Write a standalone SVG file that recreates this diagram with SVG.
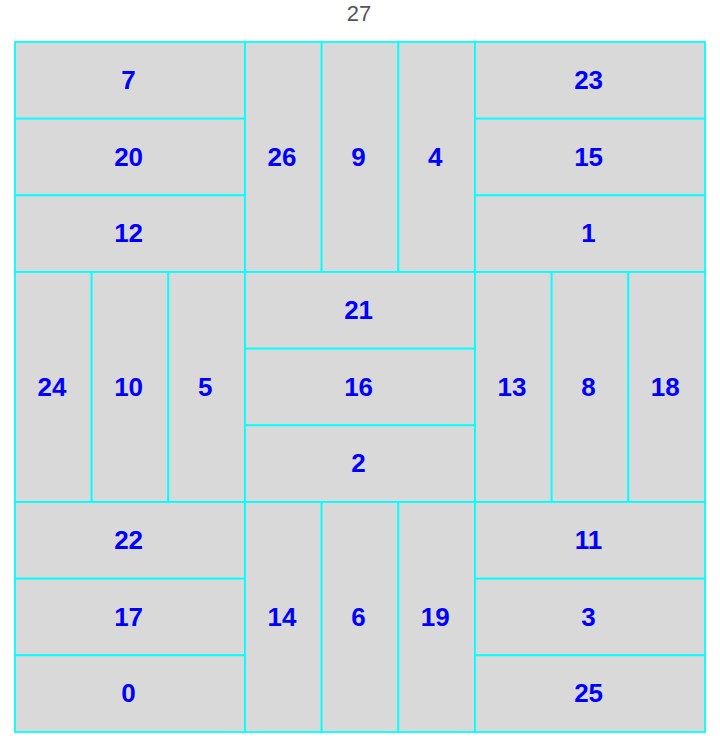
<svg xmlns="http://www.w3.org/2000/svg" width="720" height="746" viewBox="0 0 720 746">
<style>
.b{fill:#d9d9d9;stroke:#00ffff;stroke-width:1.8}
.t{font-family:"Liberation Sans",Arial,sans-serif;font-weight:bold;font-size:26px;fill:#0000ff;text-anchor:middle;dominant-baseline:central}
.title{font-family:"Liberation Sans",Arial,sans-serif;font-size:22px;fill:#555;text-anchor:middle;dominant-baseline:central}
</style>
<rect width="720" height="746" fill="#fff"/>
<text class="title" x="359" y="13">27</text>
<g id="n7"><rect class="b" x="15" y="42" width="230" height="76.67"/><text class="t" x="128.6" y="80">7</text></g>
<g id="n20"><rect class="b" x="15" y="118.67" width="230" height="76.67"/><text class="t" x="128.6" y="156.7">20</text></g>
<g id="n12"><rect class="b" x="15" y="195.33" width="230" height="76.67"/><text class="t" x="128.6" y="233.3">12</text></g>
<g id="n26"><rect class="b" x="245" y="42" width="76.67" height="230"/><text class="t" x="281.9" y="156.7">26</text></g>
<g id="n9"><rect class="b" x="321.67" y="42" width="76.67" height="230"/><text class="t" x="358.6" y="156.7">9</text></g>
<g id="n4"><rect class="b" x="398.33" y="42" width="76.67" height="230"/><text class="t" x="435.3" y="156.7">4</text></g>
<g id="n23"><rect class="b" x="475" y="42" width="230" height="76.67"/><text class="t" x="588.6" y="80">23</text></g>
<g id="n15"><rect class="b" x="475" y="118.67" width="230" height="76.67"/><text class="t" x="588.6" y="156.7">15</text></g>
<g id="n1"><rect class="b" x="475" y="195.33" width="230" height="76.67"/><text class="t" x="588.6" y="233.3">1</text></g>
<g id="n24"><rect class="b" x="15" y="272" width="76.67" height="230"/><text class="t" x="51.9" y="386.7">24</text></g>
<g id="n10"><rect class="b" x="91.67" y="272" width="76.67" height="230"/><text class="t" x="128.6" y="386.7">10</text></g>
<g id="n5"><rect class="b" x="168.33" y="272" width="76.67" height="230"/><text class="t" x="205.3" y="386.7">5</text></g>
<g id="n21"><rect class="b" x="245" y="272" width="230" height="76.67"/><text class="t" x="358.6" y="310">21</text></g>
<g id="n16"><rect class="b" x="245" y="348.67" width="230" height="76.67"/><text class="t" x="358.6" y="386.7">16</text></g>
<g id="n2"><rect class="b" x="245" y="425.33" width="230" height="76.67"/><text class="t" x="358.6" y="463.3">2</text></g>
<g id="n13"><rect class="b" x="475" y="272" width="76.67" height="230"/><text class="t" x="511.9" y="386.7">13</text></g>
<g id="n8"><rect class="b" x="551.67" y="272" width="76.67" height="230"/><text class="t" x="588.6" y="386.7">8</text></g>
<g id="n18"><rect class="b" x="628.33" y="272" width="76.67" height="230"/><text class="t" x="665.3" y="386.7">18</text></g>
<g id="n22"><rect class="b" x="15" y="502" width="230" height="76.67"/><text class="t" x="128.6" y="540">22</text></g>
<g id="n17"><rect class="b" x="15" y="578.67" width="230" height="76.67"/><text class="t" x="128.6" y="616.7">17</text></g>
<g id="n0"><rect class="b" x="15" y="655.33" width="230" height="76.67"/><text class="t" x="128.6" y="693.3">0</text></g>
<g id="n14"><rect class="b" x="245" y="502" width="76.67" height="230"/><text class="t" x="281.9" y="616.7">14</text></g>
<g id="n6"><rect class="b" x="321.67" y="502" width="76.67" height="230"/><text class="t" x="358.6" y="616.7">6</text></g>
<g id="n19"><rect class="b" x="398.33" y="502" width="76.67" height="230"/><text class="t" x="435.3" y="616.7">19</text></g>
<g id="n11"><rect class="b" x="475" y="502" width="230" height="76.67"/><text class="t" x="588.6" y="540">11</text></g>
<g id="n3"><rect class="b" x="475" y="578.67" width="230" height="76.67"/><text class="t" x="588.6" y="616.7">3</text></g>
<g id="n25"><rect class="b" x="475" y="655.33" width="230" height="76.67"/><text class="t" x="588.6" y="693.3">25</text></g>
<g id="connectors"/>
</svg>
